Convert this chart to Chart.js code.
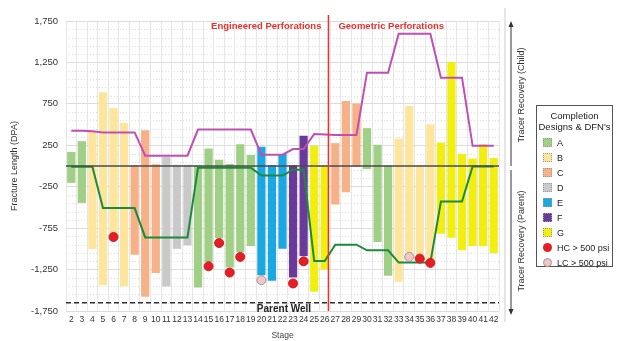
<!DOCTYPE html>
<html>
<head>
<meta charset="utf-8">
<script src="https://cdn.jsdelivr.net/npm/chart.js@4.4.1/dist/chart.umd.min.js"></script>
<style>
  html, body { margin: 0; padding: 0; background: #fff; }
  #wrap { position: relative; width: 620px; height: 341px; font-family: Arial, "Liberation Sans", sans-serif; }
  #legend {
    position: absolute; left: 536px; top: 105px; width: 75px; height: 160px;
    border: 1px solid #555; background: #fff; font-size: 9px; color: #222;
  }
  #legend .title { text-align: center; line-height: 11px; margin-top: 4px; margin-bottom: 3px; font-size: 9.5px; }
  #legend .item { height: 15px; display: flex; align-items: center; padding-left: 6px; }
  #legend .sw { width: 9px; height: 9px; margin-right: 5px; border: 1px dotted #999; box-sizing: border-box; }
  #legend .dot { width: 9px; height: 9px; margin-right: 5px; border-radius: 50%; box-sizing: border-box; }
</style>
</head>
<body>
<div id="wrap">
  <canvas id="myChart" width="620" height="341"></canvas>
  <div id="legend"></div>
</div>
<script>
const stages = ["2","3","4","5","6","7","8","9","10","11","12","13","14","15","16","17","18","19","20","21","22",
  "23","24","25","26","27","28","29","30","31","32","33","34","35","36","37","38","39","40","41","42"]
const designs = ["A","A","B","B","B","B","C","C","C","D","D","D","A","A","A","A","A","A","E","E","E",
  "F","F","G","G","C","C","C","A","A","A","B","B","B","B","G","G","G","G","G","G"]
// child tracer recovery (top of bar) and parent tracer recovery (bottom of bar)
const childTop = [170,300,410,890,700,520,10,430,20,110,15,15,10,212,76,24,264,132,232,10,144,
  10,364,244,10,276,785,753,457,256,10,333,725,10,505,285,1254,144,92,264,96]
const parentBottom = [-204,-445,-1006,-1440,-820,-1450,-1070,-1578,-1290,-1455,-1000,-958,-1466,-1158,-869,-1226,-1038,-966,-1318,-1386,-998,
  -1346,-1086,-1518,-1250,-465,-316,-10,-36,-917,-1326,-1398,-1080,-1110,-1165,-817,-865,-1018,-966,-970,-1050]
const childRecovery = [424,424,420,405,405,405,405,124,124,124,124,124,440,440,440,440,440,440,136,136,136,
  204,204,385,380,373,373,373,1126,1126,1126,1595,1595,1595,1595,1066,1066,1066,244,244,244]
const parentRecovery = [-10,-10,-10,-508,-508,-508,-508,-862,-862,-862,-862,-862,-20,-20,-20,-20,-20,-20,-116,-116,-116,
  -44,-44,-1146,-1146,-950,-950,-950,-1018,-1018,-1018,-1166,-1166,-1166,-1166,-429,-429,-429,-5,-5,-5]
const hcPoints = [null,null,null,null,-857,null,null,null,null,null,null,null,null,-1210,-929,-1286,-1097,null,null,null,null,
  -1418,-1150,null,null,null,null,null,null,null,null,null,null,-1118,-1170,null,null,null,null,null,null]
const lcPoints = [null,null,null,null,null,null,null,null,null,null,null,null,null,null,null,null,null,null,-1378,null,null,
  null,null,null,null,null,null,null,null,null,null,null,-1097,null,null,null,null,null,null,null,null]
const yTickValues = [-1750,-1250,-750,-250,250,750,1250,1750]
const yTickLabels = ["-1,750","-1,250","-755","-250","250","750","1,250","1,750"]
const parentWell = -1650

const designColors = { A: "#a0cf86", B: "#fde59b", C: "#f6b186", D: "#c9c9c9", E: "#1ba7e1", F: "#6a3a9b", G: "#f2ef10" }
const font = 'Arial, "Liberation Sans", sans-serif'

// legend
const legend = document.getElementById("legend")
let html = '<div class="title">Completion<br>Designs &amp; DFN\'s</div>'
Object.keys(designColors).forEach(k => {
  html += '<div class="item"><span class="sw" style="background:' + designColors[k] + '"></span>' + k + '</div>'
})
html += '<div class="item"><span class="dot" style="background:#e31e24"></span>HC &gt; 500 psi</div>'
html += '<div class="item"><span class="dot" style="background:#f6c4c4;border:1px solid #999"></span>LC &gt; 500 psi</div>'
legend.innerHTML = html

const extras = {
  id: "extras",
  beforeDatasetsDraw(chart) {
    const { ctx, chartArea: a, scales: { y } } = chart
    ctx.save()
    ctx.strokeStyle = "#dedede"
    ctx.lineWidth = 1
    ctx.setLineDash([1, 2])
    for (let v = -1650; v < 1750; v += 100) {
      if ((v + 1750) % 500 === 0) continue
      const py = Math.round(y.getPixelForValue(v)) + 0.5
      ctx.beginPath(); ctx.moveTo(a.left, py); ctx.lineTo(a.right, py); ctx.stroke()
    }
    ctx.restore()
  },
  afterDatasetsDraw(chart) {
    const { ctx, chartArea: a, scales: { x, y } } = chart
    ctx.save()
    // zero line
    const y0 = y.getPixelForValue(0)
    ctx.strokeStyle = "#4a4a4a"
    ctx.lineWidth = 1.5
    ctx.beginPath(); ctx.moveTo(a.left, y0); ctx.lineTo(a.right, y0); ctx.stroke()
    // parent well
    const pw = y.getPixelForValue(parentWell)
    ctx.strokeStyle = "#333"
    ctx.setLineDash([5, 3])
    ctx.beginPath(); ctx.moveTo(a.left, pw); ctx.lineTo(a.right, pw); ctx.stroke()
    ctx.setLineDash([])
    ctx.fillStyle = "#222"
    ctx.font = "bold 10px " + font
    ctx.textAlign = "center"
    ctx.textBaseline = "middle"
    ctx.fillText("Parent Well", 284, pw + 7)
    // split between perforation designs
    const p26 = x.getPixelForValue(24), p27 = x.getPixelForValue(25)
    const sx = p26 + (p27 - p26) * 0.35
    ctx.strokeStyle = "#e8302c"
    ctx.lineWidth = 1.5
    ctx.beginPath(); ctx.moveTo(sx, a.top - 6); ctx.lineTo(sx, a.bottom); ctx.stroke()
    ctx.fillStyle = "#e8302c"
    ctx.font = "bold 9.5px " + font
    ctx.textAlign = "right"
    ctx.fillText("Engineered Perforations", sx - 7, a.top + 5)
    ctx.textAlign = "left"
    ctx.fillText("Geometric Perforations", sx + 10, a.top + 5)
    // right side: tracer recovery arrows
    ctx.strokeStyle = "#ddd"
    ctx.lineWidth = 1.5
    ctx.beginPath(); ctx.moveTo(505, 8); ctx.lineTo(505, 322); ctx.stroke()
    ctx.strokeStyle = "#333"
    ctx.fillStyle = "#333"
    ctx.lineWidth = 1
    ctx.beginPath(); ctx.moveTo(511, 26); ctx.lineTo(511, 166); ctx.stroke()
    ctx.beginPath(); ctx.moveTo(511, 170); ctx.lineTo(511, 310); ctx.stroke()
    ctx.beginPath(); ctx.moveTo(511, 21); ctx.lineTo(508.5, 27); ctx.lineTo(513.5, 27); ctx.closePath(); ctx.fill()
    ctx.beginPath(); ctx.moveTo(511, 315); ctx.lineTo(508.5, 309); ctx.lineTo(513.5, 309); ctx.closePath(); ctx.fill()
    ctx.font = "9px " + font
    ctx.textAlign = "center"
    ctx.translate(522, 95); ctx.rotate(-Math.PI / 2)
    ctx.fillText("Tracer Recovery (Child)", 0, 0)
    ctx.rotate(Math.PI / 2); ctx.translate(0, 146); ctx.rotate(-Math.PI / 2)
    ctx.fillText("Tracer Recovery (Parent)", 0, 0)
    ctx.restore()
  },
}

const ctx = document.getElementById("myChart").getContext("2d")
const myChart = new Chart(ctx, {
  type: "bar",
  data: {
    labels: stages,
    datasets: [
      {
        type: "line", label: "HC > 500 psi", data: hcPoints, showLine: false,
        pointRadius: 4.5, pointBackgroundColor: "#e31e24", pointBorderColor: "#d01a1f", pointBorderWidth: 1, order: 0,
      },
      {
        type: "line", label: "LC > 500 psi", data: lcPoints, showLine: false,
        pointRadius: 4.5, pointBackgroundColor: "#f6c4c4", pointBorderColor: "#999", pointBorderWidth: 1, order: 0,
      },
      {
        type: "line", label: "Child", data: childRecovery, borderColor: "#c04fb3", borderWidth: 2,
        pointRadius: 0, tension: 0, order: 2,
      },
      {
        type: "line", label: "Parent", data: parentRecovery, borderColor: "#1b8a3b", borderWidth: 2,
        pointRadius: 0, tension: 0, order: 2,
      },
      {
        label: "Stage", data: stages.map((s, i) => [parentBottom[i], childTop[i]]),
        backgroundColor: designs.map(d => designColors[d]),
        barPercentage: 0.78, categoryPercentage: 1, order: 5,
      },
    ],
  },
  options: {
    responsive: false,
    animation: false,
    layout: { padding: { top: 21, right: 121, left: 0, bottom: 0 } },
    plugins: { legend: { display: false }, tooltip: { enabled: false } },
    scales: {
      x: {
        grid: { color: "#e6e6e6", offset: true, drawTicks: false },
        border: { display: false },
        ticks: { color: "#333", font: { size: 8.5, family: font }, padding: 4, maxRotation: 0, autoSkip: false },
        title: { display: true, text: "Stage", color: "#444", font: { size: 8.5, family: font }, padding: { top: 3, bottom: 0 } },
        afterFit: s => { s.height = 30 },
      },
      y: {
        min: -1750, max: 1750,
        afterBuildTicks: s => { s.ticks = yTickValues.map(v => ({ value: v })) },
        grid: { color: "#dcdcdc", drawTicks: false },
        border: { display: false },
        ticks: {
          color: "#333", font: { size: 9.5, family: font }, padding: 8,
          callback: v => yTickLabels[yTickValues.indexOf(v)],
        },
        title: { display: true, text: "Fracture Length (DPA)", color: "#333", font: { size: 9, family: font }, padding: 9 },
        afterFit: s => { s.width = 66 },
      },
    },
  },
  plugins: [extras],
})
</script>
</body>
</html>
